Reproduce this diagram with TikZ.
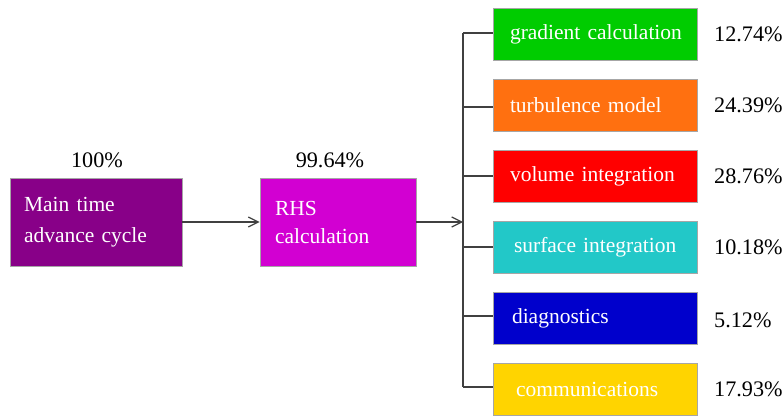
\documentclass[tikz,border=0pt]{standalone}
\usepackage{fontspec}
\setmainfont{Liberation Serif}
\usetikzlibrary{arrows.meta}
\definecolor{cmain}{HTML}{880088}
\definecolor{crhs}{HTML}{D200D2}
\definecolor{cgreen}{HTML}{00CC00}
\definecolor{corange}{HTML}{FF7010}
\definecolor{cred}{HTML}{FF0000}
\definecolor{ccyan}{HTML}{22C8C8}
\definecolor{cblue}{HTML}{0000CC}
\definecolor{cyellow}{HTML}{FFD400}
\definecolor{cline}{HTML}{404040}
\tikzset{
  box/.style={draw=gray!70, line width=0.8pt, text=white, font=\fontsize{21.5}{31}\selectfont,
    align=left, inner xsep=0pt, inner ysep=0pt},
  bigbox/.style={box, minimum width=172pt, minimum height=88pt, text width=144pt},
  subbox/.style={box, minimum width=204pt, minimum height=52pt},
  pct/.style={font=\fontsize{22.2}{26}\selectfont, text=black, inner sep=0pt},
  conn/.style={cline, line width=1.2pt},
  arr/.style={conn, -{Straight Barb[length=10pt,width=10pt,line width=1.2pt]}}
}
\begin{document}
\begin{tikzpicture}[x=1pt,y=-1pt]
\useasboundingbox[fill=white] (0,0) rectangle (784,417);
\node[bigbox, fill=cmain] (main) at (96,222) {Main time\\advance cycle};
\node[bigbox, fill=crhs, minimum width=156pt, text width=126pt, font=\fontsize{21.5}{28}\selectfont] (rhs) at (338,222) {RHS\\calculation};
\node[pct, anchor=south] (p0) at (97,168) {100\%};
\node[pct, anchor=south] (p1) at (330,168) {99.64\%};

\node[subbox, fill=cgreen, text width=170pt] (g) at (595,34.5) {\mbox{gradient calculation}};
\node[subbox, fill=corange, text width=170pt] (t) at (595,105.5) {\mbox{turbulence model}};
\node[subbox, fill=cred, text width=170pt] (v) at (595,176.5) {\mbox{volume integration}};
\node[subbox, fill=ccyan, text width=162pt] (s) at (595,247.5) {\mbox{surface integration}};
\node[subbox, fill=cblue, text width=166pt] (d) at (595,318.5) {\mbox{diagnostics}};
\node[subbox, fill=cyellow, text width=158pt] (c) at (595,389.5) {\mbox{communications}};

\node[pct, anchor=west] (pg) at (714,34) {12.74\%};
\node[pct, anchor=west] (pt) at (714,105) {24.39\%};
\node[pct, anchor=west] (pv) at (714,176) {28.76\%};
\node[pct, anchor=west] (ps) at (714,247) {10.18\%};
\node[pct, anchor=west] (pd) at (714,320) {5.12\%};
\node[pct, anchor=west] (pc) at (714,389) {17.93\%};

\coordinate (top) at (463,33);
\coordinate (bot) at (463,387);
\coordinate (mid) at (463,222);
\draw[arr] (main.east) -- (rhs.west);
\draw[arr] (rhs.east) -- (mid);
\draw[conn] (top) -- (bot);
\foreach \n/\y in {g/33,t/107,v/176,s/247,d/316,c/387}{
  \draw[conn] (463,\y) -- (\n.west |- 0,\y);
}
\end{tikzpicture}
\end{document}
